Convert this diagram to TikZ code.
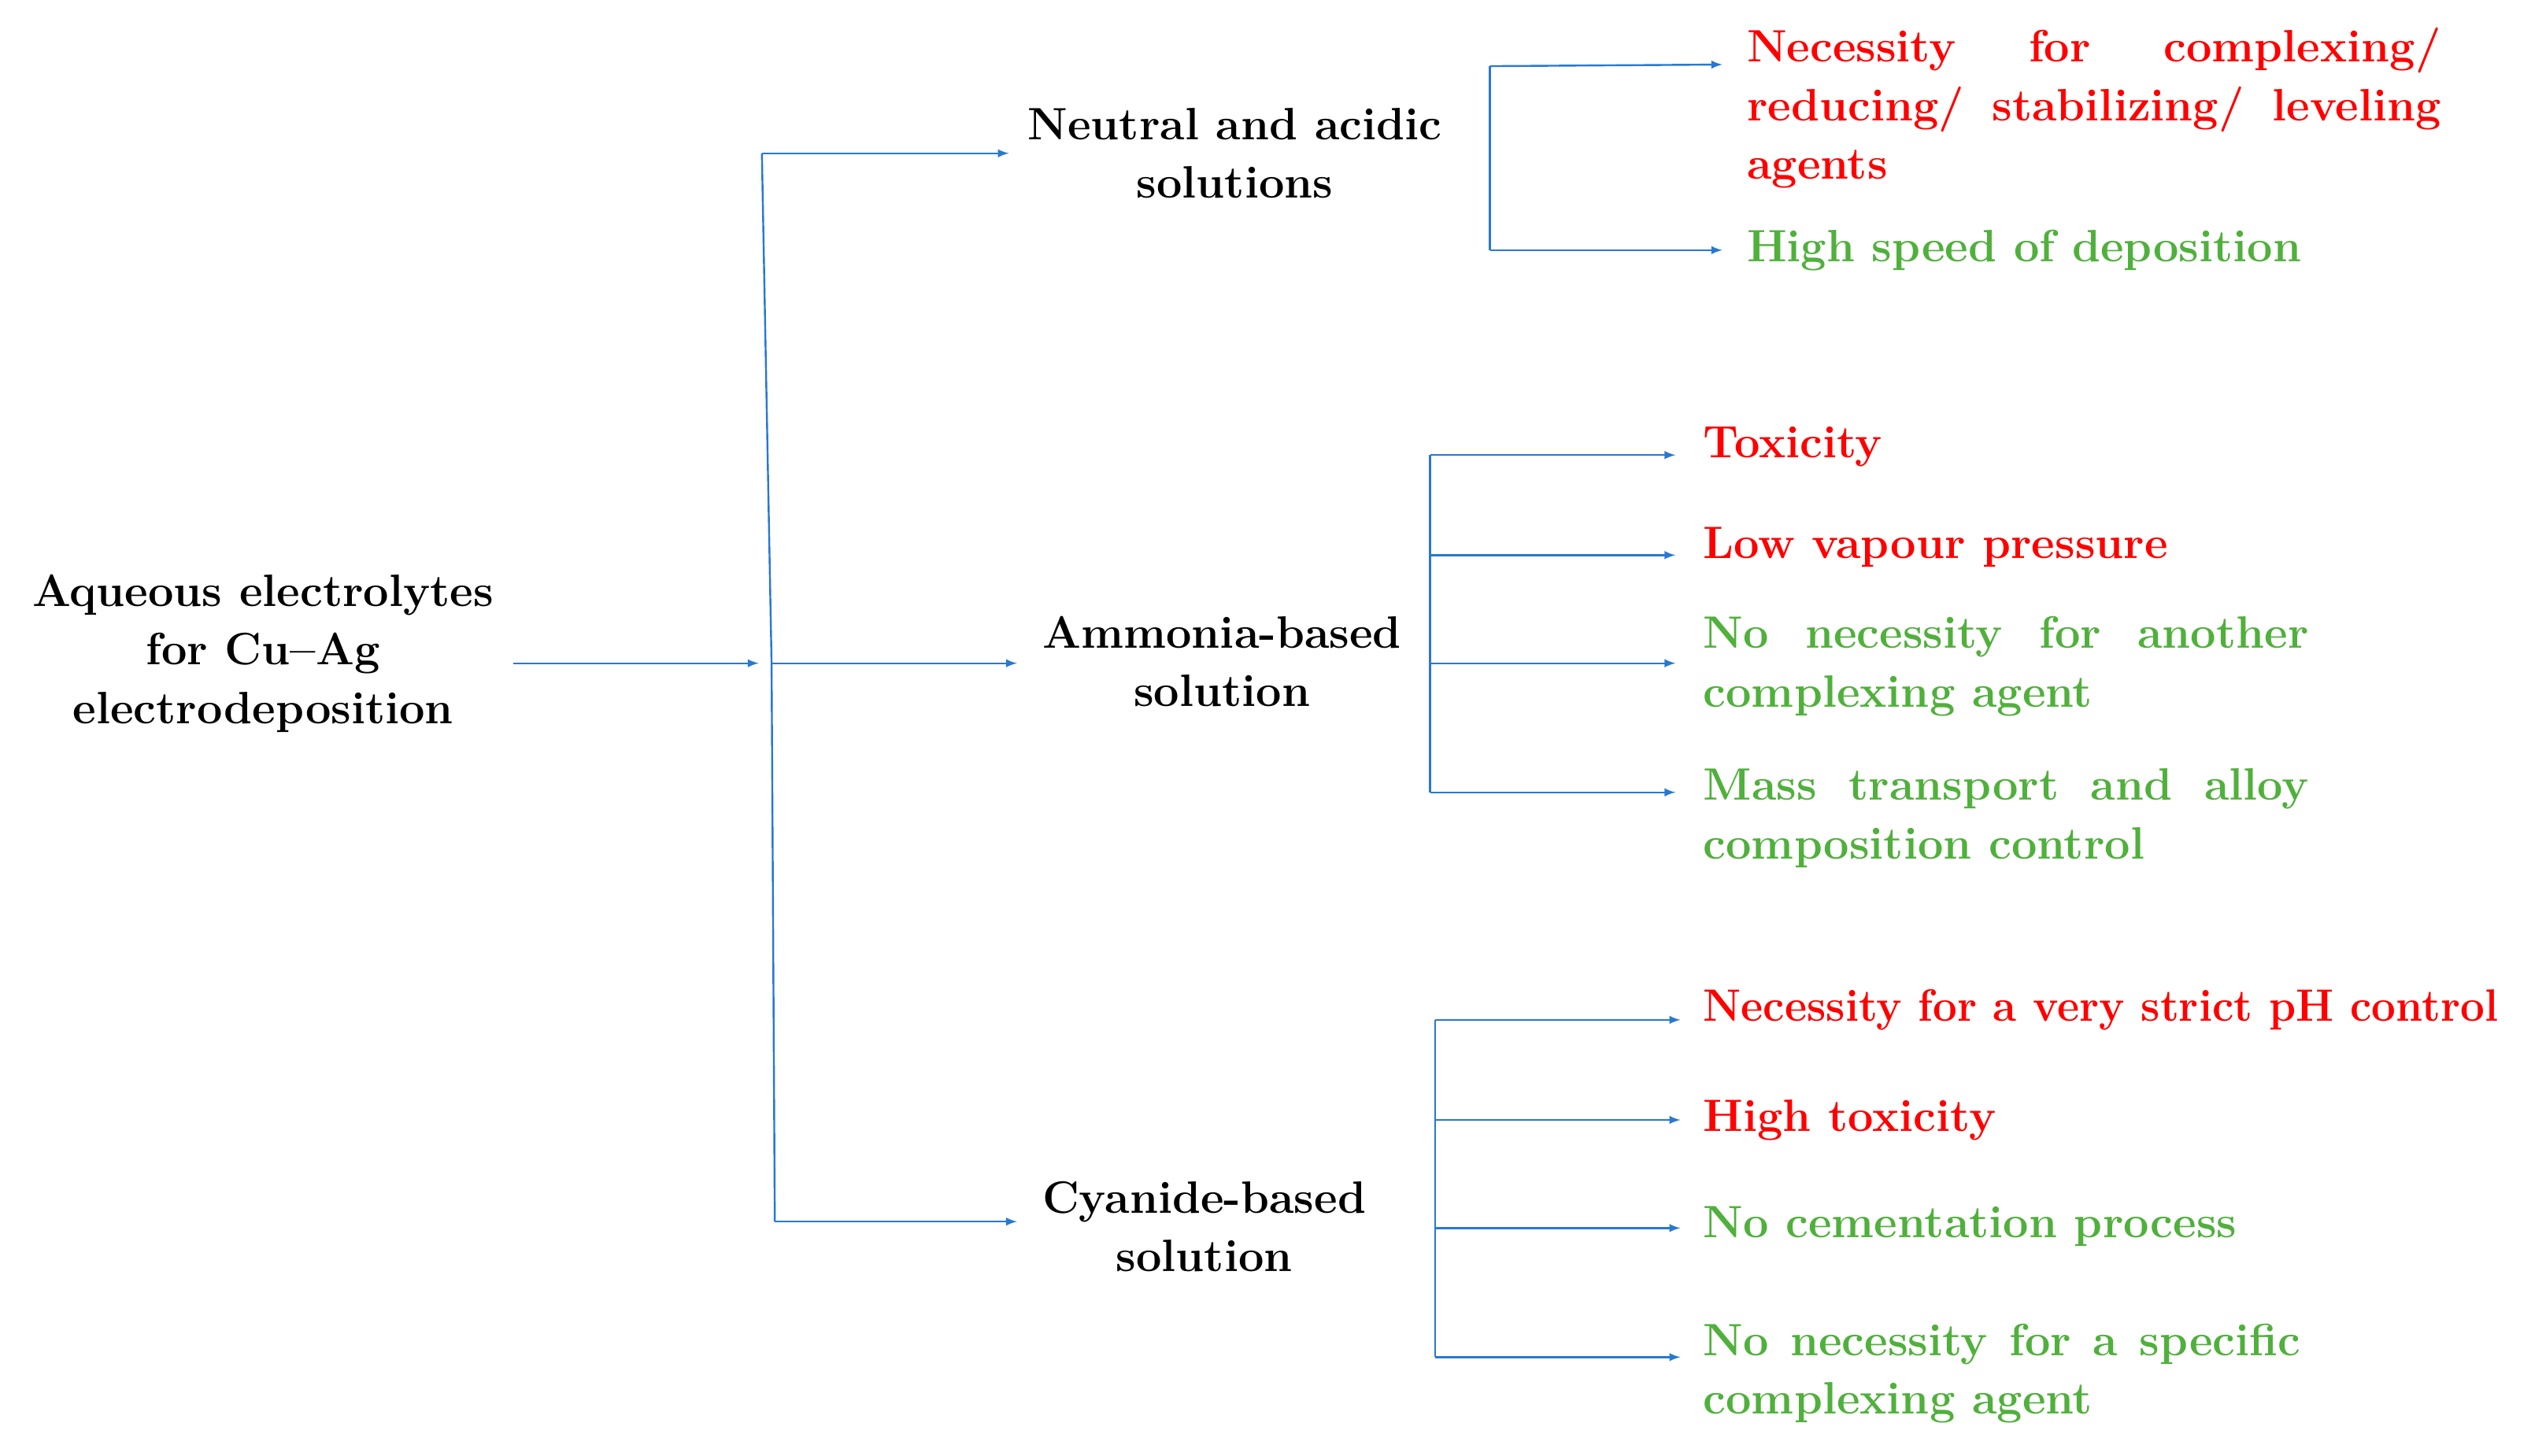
\documentclass[tikz,border=0pt]{standalone}
\begin{document}
\definecolor{ln}{RGB}{40,120,210}
\definecolor{rd}{RGB}{255,0,0}
\definecolor{gn}{RGB}{80,176,60}
\begin{tikzpicture}[x=0.03cm,y=-0.03cm,
  every node/.style={font=\fontsize{24}{31}\selectfont\bfseries,inner sep=0pt},
  cat/.style={align=center},
  con/.style={ln,line width=1pt,-latex},
  seg/.style={ln,line width=1pt},
  bad/.style={rd,anchor=west,align=justify},
  good/.style={gn,anchor=west,align=justify}]
\useasboundingbox (0,0) rectangle (1568,902);
\node[cat] (root) at (163,405) {Aqueous electrolytes\\for Cu--Ag\\electrodeposition};
\node[cat] (neu) at (765,95) {Neutral and acidic\\solutions};
\node[cat] (amm) at (757,410) {Ammonia-based\\solution};
\node[cat] (cya) at (746,760) {Cyanide-based\\solution};
\coordinate (r0) at (318,411); \coordinate (r1) at (470,411);
\coordinate (t) at (472,95); \coordinate (m) at (478,411); \coordinate (b) at (480,757);
\draw[con] (r0) -- (r1);
\draw[seg] (t) -- (m) -- (b);
\draw[con] (t) -- (625,95);
\draw[con] (m) -- (630,411);
\draw[con] (b) -- (630,757);
% neutral
\node[rd,anchor=west,align=left] (n1) at (1082,67) {\makebox[12.9cm][s]{Necessity\hfill for\hfill complexing/}\\\makebox[12.9cm][s]{reducing/\hfill stabilizing/\hfill leveling}\\agents};
\node[good] (n2) at (1082,155) {High speed of deposition};
\draw[seg] (923,41) -- (923,155);
\draw[con] (923,41) -- (1067,40);
\draw[con] (923,155) -- (1067,155);
% ammonia
\node[bad] (a1) at (1055,277) {Toxicity};
\node[bad] (a2) at (1055,339) {Low vapour pressure};
\node[good,text width=11.25cm] (a3) at (1055,413) {No necessity for another complexing agent};
\node[good,text width=11.25cm] (a4) at (1055,507) {Mass transport and alloy composition control};
\draw[seg] (886,282) -- (886,491);
\foreach \y in {282,344,411,491} \draw[con] (886,\y) -- (1038,\y);
% cyanide
\node[bad] (c1) at (1055,626) {\scalebox{0.95}[1]{Necessity for a very strict pH control}};
\node[bad] (c2) at (1055,694) {High toxicity};
\node[good] (c3) at (1055,760) {No cementation process};
\node[good,text width=11.1cm] (c4) at (1055,851) {No necessity for a specific complexing agent};
\draw[seg] (889,632) -- (889,841);
\foreach \y in {632,694,761,841} \draw[con] (889,\y) -- (1041,\y);
\end{tikzpicture}
\end{document}
